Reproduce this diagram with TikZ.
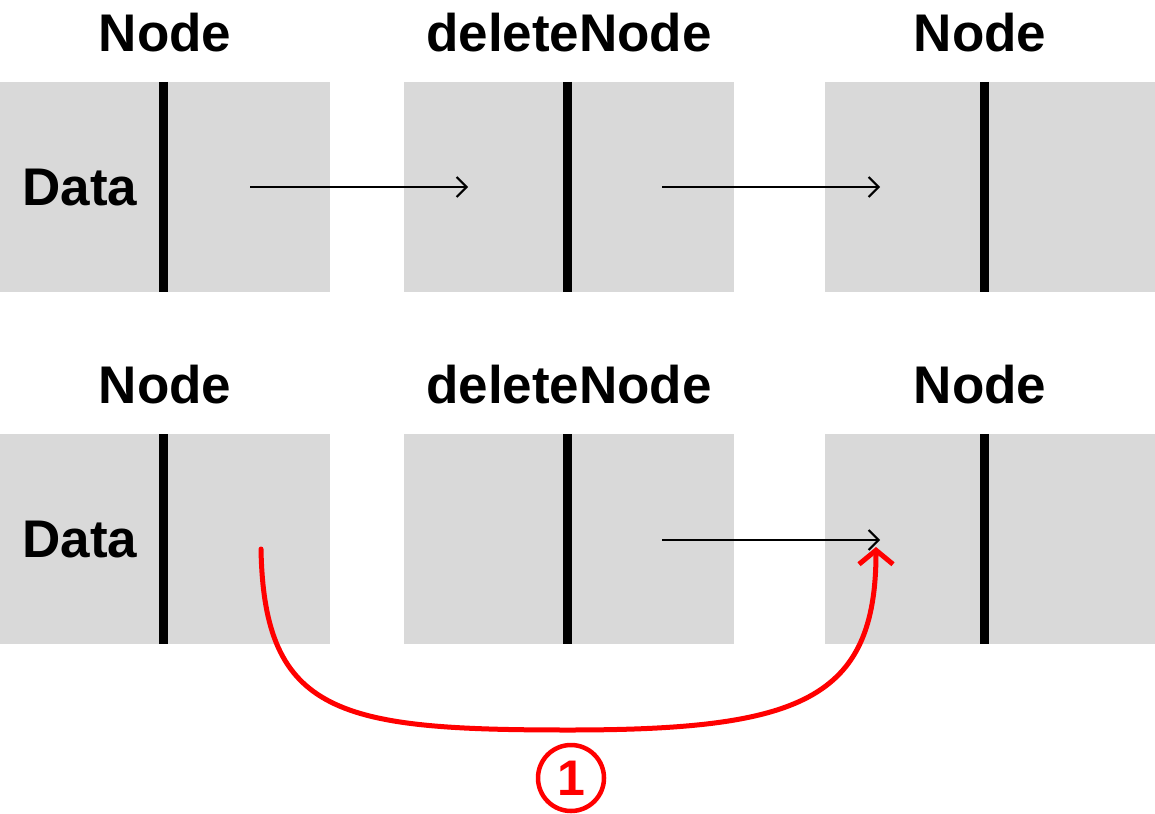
\documentclass[tikz,border=0pt]{standalone}
\usepackage{fontspec}
\setmainfont{Liberation Sans}
\usetikzlibrary{arrows.meta}
\definecolor{boxgray}{HTML}{D9D9D9}
\definecolor{redline}{HTML}{FF0000}
\tikzset{
  cell/.style={fill=boxgray, draw=none, minimum width=330pt, minimum height=210pt, inner sep=0pt, anchor=north west},
  divider/.style={line width=9pt, black},
  lbl/.style={font=\fontsize{53}{60}\selectfont\bfseries, inner sep=0pt},
  ptr/.style={line width=2pt, -{Straight Barb[length=10pt,width=20pt,line width=2pt]}},
  redptr/.style={line width=5pt, redline, line cap=round, -{Straight Barb[length=14pt,width=34pt,line width=5pt]}},
}
\begin{document}
\begin{tikzpicture}[x=1pt,y=-1pt]
\useasboundingbox (0,0) rectangle (1155,813);
% row 1
\node[cell] (a1) at (0,82) {};
\node[cell] (b1) at (404,82) {};
\node[cell] (c1) at (825,82) {};
\draw[divider] (163,82) -- (163,292);
\draw[divider] (567,82) -- (567,292);
\draw[divider] (984,82) -- (984,292);
\node[lbl] (t1) at (165,33) {Node};
\node[lbl] (t2) at (569,33) {deleteNode};
\node[lbl] (t3) at (980,33) {Node};
\node[lbl] (d1) at (80,188) {Data};
\coordinate (p1s) at (250,187);
\coordinate (p1e) at (468,187);
\coordinate (p2s) at (662,187);
\coordinate (p2e) at (880,187);
\draw[ptr] (p1s) -- (p1e);
\draw[ptr] (p2s) -- (p2e);
% row 2
\node[cell] (a2) at (0,434) {};
\node[cell] (b2) at (404,434) {};
\node[cell] (c2) at (825,434) {};
\draw[divider] (163,434) -- (163,644);
\draw[divider] (567,434) -- (567,644);
\draw[divider] (984,434) -- (984,644);
\node[lbl] (u1) at (165,385) {Node};
\node[lbl] (u2) at (569,385) {deleteNode};
\node[lbl] (u3) at (980,385) {Node};
\node[lbl] (d2) at (80,540) {Data};
\coordinate (q2s) at (662,540);
\coordinate (q2e) at (880,540);
\draw[ptr] (q2s) -- (q2e);
% red pointer
\coordinate (rs) at (261,549);
\coordinate (rm) at (569,730);
\coordinate (re) at (876,547);
\draw[redptr] (rs) .. controls (264,715) and (340,730) .. (rm)
  .. controls (800,730) and (876,700) .. (re);
\node[circle, draw=redline, line width=4.5pt, minimum size=66pt, inner sep=0pt,
  text=redline, font=\fontsize{50}{56}\selectfont\bfseries] (one) at (571,778) {1};
\end{tikzpicture}
\end{document}
